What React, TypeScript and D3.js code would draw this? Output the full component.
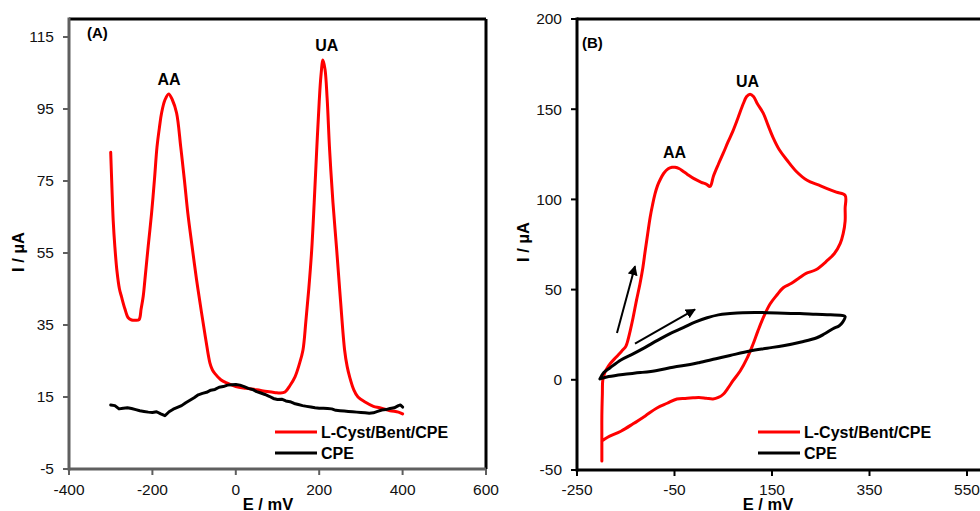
import * as d3 from 'd3';
import { useEffect, useRef } from 'react';

// (A) DPV – E / mV, I / µA
const dpvModified: [number, number][] = [
  [-300, 83], [-297, 73], [-294, 64], [-290, 56.7], [-285, 50], [-279, 45], [-274, 42.8], [-266, 39.5],
  [-258, 37], [-250, 36.4], [-240, 36.3], [-232, 36.5], [-227, 39.5], [-222, 43], [-218, 47.5], [-210, 57],
  [-202, 66], [-195, 75.5], [-189, 84.4], [-183, 90], [-178, 93.9], [-170, 97.5], [-161, 99.2], [-152, 97.5],
  [-142, 93.9], [-132, 84.4], [-123, 75], [-115, 66], [-105, 57], [-94, 47.5], [-82, 38.3], [-72, 31],
  [-62, 24.4], [-56, 22.5], [-50, 21.5], [-36, 19.8], [-22, 18.9], [0, 17.9], [25, 17.4], [50, 17],
  [75, 16.5], [95, 16.2], [106, 16.1], [118, 16.4], [130, 18.2], [142, 20.6], [152, 24], [161, 28],
  [168, 36], [175, 45], [182, 55.8], [188, 69], [194, 83.6], [200, 97], [204, 104], [209, 108.6],
  [214, 106], [219, 98], [225, 83.6], [233, 69], [242, 55.8], [251, 42], [261, 28], [267, 23.5],
  [273, 20.6], [283, 17], [293, 15], [310, 13.6], [330, 12.4], [345, 12], [370, 11.2], [390, 10.8], [400, 10.3]
];

const dpvBare: [number, number][] = [
  [-300, 12.8], [-290, 12.6], [-280, 11.7], [-270, 11.9], [-260, 12.0], [-250, 11.8], [-240, 11.5],
  [-230, 11.2], [-220, 11.0], [-210, 10.8], [-200, 10.7], [-190, 10.9], [-180, 10.3], [-170, 9.8],
  [-160, 10.9], [-150, 11.6], [-140, 12.1], [-130, 12.6], [-120, 13.4], [-110, 14.1], [-100, 14.8],
  [-90, 15.6], [-80, 16.0], [-70, 16.3], [-60, 16.9], [-50, 17.1], [-40, 17.7], [-30, 17.9], [-20, 18.3],
  [-10, 18.4], [0, 18.5], [10, 18.3], [20, 17.9], [30, 17.4], [40, 17.1], [50, 16.5], [60, 16.1],
  [70, 15.7], [80, 15.2], [90, 14.6], [100, 14.3], [110, 14.4], [120, 13.9], [130, 13.7], [140, 13.2],
  [150, 12.9], [160, 12.6], [170, 12.4], [180, 12.2], [190, 12.0], [200, 11.9], [210, 11.9], [220, 11.8],
  [230, 11.7], [240, 11.3], [250, 11.2], [260, 11.1], [270, 11.0], [280, 10.9], [290, 10.8], [300, 10.7],
  [310, 10.6], [320, 10.5], [330, 10.6], [340, 11.0], [350, 11.4], [360, 11.5], [370, 11.8], [380, 12.0],
  [390, 12.6], [395, 12.8], [400, 12.2]
];

// (B) CV
const cvModified: [number, number][] = [
  [-199, -45], [-199, -34], [-199, -20], [-198, -8], [-197, 0], [-193, 4], [-188, 6.5], [-182, 8.9],
  [-170, 12.5], [-158, 16], [-150, 18.5], [-147, 20.6], [-141, 27], [-135, 34.4], [-128, 44], [-121, 53],
  [-115, 62], [-110, 71.7], [-105, 81], [-100, 90], [-95, 97], [-90, 103], [-85, 107.5], [-80, 110.6],
  [-72, 114.5], [-63, 117], [-55, 117.8], [-49, 117.8], [-40, 117], [-32, 115.5], [-24, 114], [-10, 111.5],
  [5, 109.5], [15, 108.5], [23, 107.2], [30, 113], [40, 119.5], [50, 125.6], [60, 132], [70, 138],
  [80, 145], [91, 153], [98, 157], [105, 158.3], [112, 157], [120, 153], [132, 147.8], [142, 141],
  [152, 134.4], [165, 127.5], [181, 121.7], [200, 115.5], [222, 110.6], [245, 108], [263, 106], [282, 104],
  [300, 102.2], [300, 95], [300, 88], [296, 81], [290, 75.6], [278, 70], [263, 66], [240, 61],
  [220, 59], [207, 56.7], [190, 53.5], [173, 51], [160, 47], [146, 42], [133, 35], [121, 27],
  [110, 19], [99, 12], [85, 5], [70, -0.5], [60, -4.5], [50, -8], [40, -9.8], [29, -10.6],
  [15, -10.2], [0, -9.8], [-12, -10], [-28, -10.3], [-45, -10.6], [-65, -13], [-86, -15.6], [-110, -20],
  [-135, -24.4], [-160, -28.5], [-188, -32], [-199, -34]
];

const cvBare: [number, number][] = [
  [-203, 0.5], [-195, 4], [-182, 6.7], [-160, 11], [-135, 14.4], [-110, 18], [-86, 21.7], [-60, 25.5],
  [-32, 28.9], [-8, 32], [17, 34.4], [40, 36], [64, 36.7], [90, 37.2], [115, 37.3], [140, 37.2],
  [175, 36.9], [207, 36.7], [240, 36.3], [270, 36], [296, 35.6], [300, 35], [295, 32], [288, 30],
  [275, 28.3], [258, 25.5], [242, 23.3], [210, 21], [173, 18.9], [140, 17.5], [105, 16], [64, 13.5],
  [35, 11.7], [0, 9.5], [-18, 8.5], [-53, 7], [-86, 5.2], [-120, 4], [-156, 3], [-185, 1.8], [-203, 0.5]
];

// scan direction arrows [E1, I1, E2, I2]
const cvArrows: [number, number, number, number][] = [
  [-168, 26, -131, 63],
  [-131, 20, -8, 39]
];

const ticksAX = [-400, -200, 0, 200, 400, 600];
const ticksAY = [-5, 15, 35, 55, 75, 95, 115];
const ticksBX = [-250, -50, 150, 350, 550];
const ticksBY = [-50, 0, 50, 100, 150, 200];

const FONT = 'Liberation Sans, Arial, sans-serif';
const RED = '#ff0000';

const App = () => {
  const chartRef = useRef<SVGSVGElement | null>(null);

  useEffect(() => {
    const svg = d3.select(chartRef.current);
    svg.selectAll('*').remove();

    svg.append('defs').append('marker')
      .attr('id', 'arrowHead')
      .attr('viewBox', '0 0 10 10')
      .attr('refX', 9).attr('refY', 5)
      .attr('markerWidth', 5).attr('markerHeight', 5)
      .attr('orient', 'auto')
      .append('path').attr('d', 'M0,0 L10,5 L0,10 z').attr('fill', '#000');

    const drawPanel = (opt: any) => {
      const { x, y, xTicks, yTicks, leftColor, tag, tagPos, series, peaks, xLabelX, yLabelPos } = opt;
      const [x0, x1] = x.range();
      const [y0, y1] = y.range();
      const g = svg.append('g');

      // рамка
      g.append('line').attr('x1', x0).attr('x2', x1).attr('y1', y1).attr('y2', y1)
        .attr('stroke', '#000').attr('stroke-width', 3);
      g.append('line').attr('x1', x1).attr('x2', x1).attr('y1', y1).attr('y2', y0)
        .attr('stroke', '#000').attr('stroke-width', 3);
      g.append('line').attr('x1', x0).attr('x2', x1).attr('y1', y0).attr('y2', y0)
        .attr('stroke', leftColor).attr('stroke-width', 3);
      g.append('line').attr('x1', x0).attr('x2', x0).attr('y1', y1 - 1.5).attr('y2', y0 + 1.5)
        .attr('stroke', leftColor).attr('stroke-width', 3);

      // тики
      xTicks.forEach((t: number) => {
        g.append('line').attr('x1', x(t)).attr('x2', x(t)).attr('y1', y0).attr('y2', y0 + 6)
          .attr('stroke', leftColor).attr('stroke-width', 2);
        g.append('text').attr('x', x(t)).attr('y', 495).attr('text-anchor', 'middle')
          .style('font-family', FONT).style('font-size', '15.5px').attr('fill', '#111').text(t);
      });
      yTicks.forEach((t: number) => {
        g.append('line').attr('x1', x0 - 6).attr('x2', x0).attr('y1', y(t)).attr('y2', y(t))
          .attr('stroke', leftColor).attr('stroke-width', 2);
        g.append('text').attr('x', x0 - 15).attr('y', y(t)).attr('dy', '0.35em').attr('text-anchor', 'end')
          .style('font-family', FONT).style('font-size', '15.5px').attr('fill', '#111').text(t);
      });

      // подписи осей
      g.append('text').attr('x', xLabelX).attr('y', 510).attr('text-anchor', 'middle')
        .style('font-family', FONT).style('font-size', '16.5px').style('font-weight', 'bold').text('E / mV');
      g.append('text')
        .attr('transform', `translate(${yLabelPos[0]},${yLabelPos[1]}) rotate(-90)`)
        .attr('text-anchor', 'middle').attr('dy', '0.35em')
        .style('font-family', FONT).style('font-size', '16.5px').style('font-weight', 'bold').text('I / µA');

      series.forEach((s: any) => {
        const line = d3.line<[number, number]>().x(d => x(d[0])).y(d => y(d[1]))
          .curve(s.smooth ? d3.curveCatmullRom.alpha(0.5) : d3.curveLinear);
        g.append('path').datum(s.data).attr('d', line)
          .attr('fill', 'none').attr('stroke', s.color).attr('stroke-width', 3)
          .attr('stroke-linejoin', 'round').attr('stroke-linecap', 'round');
      });

      g.append('text').attr('x', tagPos[0]).attr('y', tagPos[1]).attr('dy', '0.35em')
        .style('font-family', FONT).style('font-size', '15px').style('font-weight', 'bold').text(tag);

      peaks.forEach((p: any) => {
        g.append('text').attr('x', p.px).attr('y', p.py).attr('dy', '0.35em').attr('text-anchor', 'middle')
          .style('font-family', FONT).style('font-size', '16px').style('font-weight', 'bold').text(p.label);
      });

      // легенда
      const lx = x0 + opt.legendDx;
      series.forEach((s: any, i: number) => {
        const ly = 432 + i * 21;
        g.append('line').attr('x1', lx).attr('x2', lx + 42).attr('y1', ly).attr('y2', ly)
          .attr('stroke', s.color).attr('stroke-width', 3);
        g.append('text').attr('x', lx + 46).attr('y', ly).attr('dy', '0.35em')
          .style('font-family', FONT).style('font-size', '16px').style('font-weight', 'bold').text(s.name);
      });
      return g;
    };

    const xA = d3.scaleLinear().domain([-400, 600]).range([69, 486]);
    const yA = d3.scaleLinear().domain([-5, 120]).range([469, 19]);
    drawPanel({
      x: xA, y: yA, xTicks: ticksAX, yTicks: ticksAY, leftColor: '#5f5f5f',
      tag: '(A)', tagPos: [87, 33], xLabelX: 268, yLabelPos: [18, 252], legendDx: 206,
      series: [
        { name: 'L-Cyst/Bent/CPE', color: RED, data: dpvModified, smooth: true },
        { name: 'CPE', color: '#000', data: dpvBare, smooth: false }
      ],
      peaks: [
        { label: 'AA', px: xA(-160), py: 79 },
        { label: 'UA', px: xA(218), py: 45 }
      ]
    });

    const xB = d3.scaleLinear().domain([-250, 650]).range([577, 577 + 900 * 0.4875]);
    const yB = d3.scaleLinear().domain([-50, 200]).range([470, 19]);
    const gB = drawPanel({
      x: xB, y: yB, xTicks: ticksBX, yTicks: ticksBY, leftColor: '#000',
      tag: '(B)', tagPos: [582, 43], xLabelX: 768, yLabelPos: [523, 242], legendDx: 181,
      series: [
        { name: 'L-Cyst/Bent/CPE', color: RED, data: cvModified, smooth: true },
        { name: 'CPE', color: '#000', data: cvBare, smooth: true }
      ],
      peaks: [
        { label: 'AA', px: xB(-50), py: 152 },
        { label: 'UA', px: xB(100), py: 81 }
      ]
    });

    cvArrows.forEach(a => {
      gB.append('line')
        .attr('x1', xB(a[0])).attr('y1', yB(a[1])).attr('x2', xB(a[2])).attr('y2', yB(a[3]))
        .attr('stroke', '#000').attr('stroke-width', 2).attr('marker-end', 'url(#arrowHead)');
    });
  }, []);

  return (
    <svg ref={chartRef} width={980} height={511}
      style={{ position: 'absolute', left: 0, top: 0, background: '#fff' }} />
  );
};

export default App;
